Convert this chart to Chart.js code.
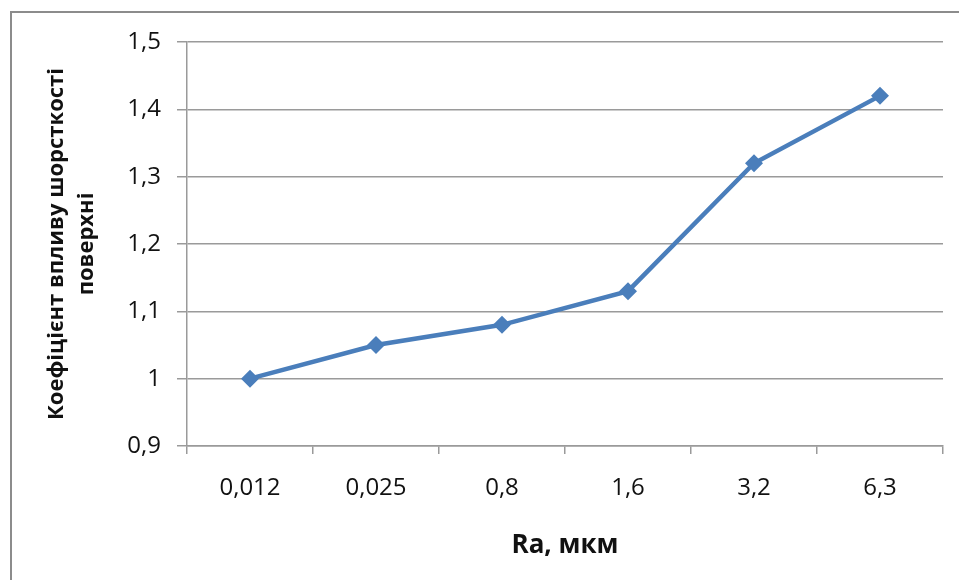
<!DOCTYPE html>
<html>
<head>
<meta charset="utf-8">
<script src="https://cdn.jsdelivr.net/npm/chart.js@4.4.1/dist/chart.umd.min.js"></script>
<style>
  html, body { margin: 0; padding: 0; background: #fff; }
  #wrap { position: relative; width: 959px; height: 580px; overflow: hidden; }
  #frame { position: absolute; left: 10px; top: 11px; width: 1000px; height: 1000px;
           border-top: 2px solid #8c8c8c; border-left: 2px solid #8c8c8c; }
  canvas { position: absolute; left: 0; top: 0; }
</style>
</head>
<body>
<div id="wrap">
  <div id="frame"></div>
  <canvas id="chart" width="959" height="580"></canvas>
</div>
<script>
const roughness = ['0,012', '0,025', '0,8', '1,6', '3,2', '6,3'];
const coefficient = [1.0, 1.05, 1.08, 1.13, 1.32, 1.42];
const yTitle = ['Коефіцієнт впливу шорсткості', 'поверхні'];
const xTitle = 'Ra, мкм';

const gridColor = '#9a9a9a';
const lineColor = '#4a7ebb';

Chart.defaults.font.family = "'Open Sans', 'Noto Sans', sans-serif";
Chart.defaults.color = '#111';

const ctx = document.getElementById('chart');
const chart = new Chart(ctx, {
  type: 'line',
  data: {
    labels: roughness,
    datasets: [{
      data: coefficient,
      borderColor: lineColor,
      backgroundColor: lineColor,
      borderWidth: 4.5,
      pointStyle: 'rectRot',
      pointRadius: 9,
      pointBorderWidth: 0,
      tension: 0,
      fill: false,
    }]
  },
  options: {
    responsive: false,
    animation: false,
    layout: { padding: { left: 0, top: 42, right: 16, bottom: 0 } },
    plugins: { legend: { display: false }, tooltip: { enabled: false } },
    scales: {
      x: {
        offset: true,
        grid: { offset: true, drawOnChartArea: false, drawTicks: true, tickLength: 8, color: gridColor, lineWidth: 1.5 },
        border: { color: gridColor, width: 1.5 },
        ticks: { font: { size: 24 }, padding: 20, maxRotation: 0 },
        title: { display: true, text: xTitle, font: { size: 26, weight: 'bold' }, padding: { top: 0, bottom: 19 } },
        afterFit: s => { s.height = 134; },
      },
      y: {
        min: 0.9,
        max: 1.5,
        grid: { color: gridColor, lineWidth: 1.5, tickLength: 10 },
        border: { color: gridColor, width: 1.5 },
        ticks: {
          stepSize: 0.1,
          font: { size: 24 },
          padding: 16,
          callback: v => {
            const r = Math.round(v * 10) / 10;
            return r === 1 ? '1' : r.toFixed(1).replace('.', ',');
          }
        },
        title: { display: true, text: yTitle, font: { size: 22, weight: 'bold', lineHeight: 1.36 }, padding: { top: 42, bottom: 0 } },
        afterFit: s => { s.width = 187; },
      }
    }
  }
});
</script>
</body>
</html>
